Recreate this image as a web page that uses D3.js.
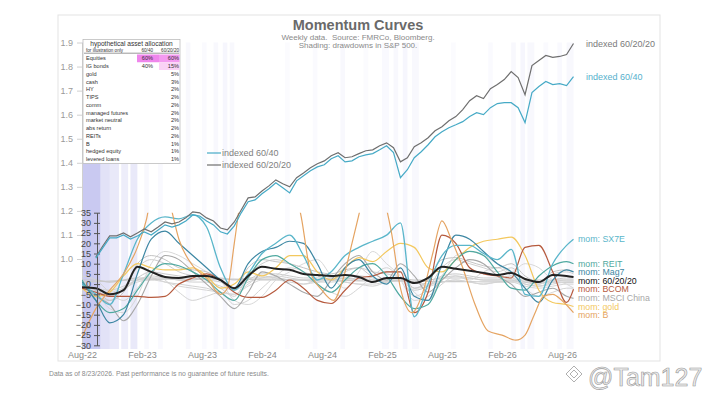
<!DOCTYPE html>
<html>
<head>
<meta charset="utf-8">
<title>Momentum Curves</title>
<script src="https://cdn.jsdelivr.net/npm/d3@7"></script>
<style>
  body { margin: 0; background: #fff; }
  svg { font-family: "Liberation Sans", Arial, sans-serif; }
  .pre { white-space: pre; }
</style>
</head>
<body>
<svg id="chart" width="715" height="402"></svg>
<script>
// ---- data (weeks counted from the first observation, Aug-22) ----
const xTickWeeks = [0, 26, 52, 78, 104, 130, 156, 182, 208];
const xTickLabels = ["Aug-22", "Feb-23", "Aug-23", "Feb-24", "Aug-24", "Feb-25", "Aug-25", "Feb-26", "Aug-26"];
const idxTicks = [1.0, 1.1, 1.2, 1.3, 1.4, 1.5, 1.6, 1.7, 1.8, 1.9];
const momTicks = [35, 30, 25, 20, 15, 10, 5, 0, -5, -10, -15, -20, -25, -30];

// indexed portfolios
const idxWeeks = [6,9,12,15,18,21,24,27,30,33,36,39,42,45,48,51,54,57,60,63,66,69,72,75,78,81,84,87,90,93,96,99,102,105,108,111,114,117,120,123,126,129,132,135,138,141,144,147,150,153,156,159,162,165,168,171,174,177,180,183,186,189,192,195,198,201,204,207,210,213];
const idx602020 = [1.008,1.054,1.096,1.096,1.108,1.092,1.108,1.125,1.113,1.133,
  1.154,1.146,1.154,1.171,1.196,1.192,1.171,1.158,1.129,1.121,
  1.154,1.204,1.254,1.258,1.283,1.304,1.329,1.313,1.300,1.338,
  1.358,1.379,1.396,1.408,1.429,1.442,1.421,1.425,1.438,1.450,
  1.454,1.471,1.483,1.463,1.404,1.421,1.467,1.483,1.504,1.533,
  1.550,1.575,1.592,1.621,1.658,1.679,1.667,1.708,1.725,1.746,
  1.779,1.754,1.683,1.804,1.825,1.846,1.838,1.842,1.850,1.896];
const idx6040 = [1.004,1.046,1.088,1.088,1.100,1.083,1.096,1.113,1.100,1.121,
  1.142,1.133,1.142,1.158,1.183,1.179,1.158,1.142,1.113,1.104,
  1.138,1.192,1.238,1.246,1.271,1.292,1.317,1.296,1.275,1.325,
  1.346,1.367,1.383,1.392,1.417,1.429,1.404,1.408,1.425,1.433,
  1.438,1.454,1.471,1.442,1.338,1.371,1.421,1.446,1.475,1.508,
  1.529,1.546,1.558,1.571,1.592,1.608,1.600,1.629,1.646,1.650,
  1.650,1.629,1.567,1.692,1.717,1.738,1.725,1.729,1.721,1.758];

// momentum series (sampled every 6 weeks)
const momWeeks = [0,6,12,18,24,30,36,42,48,54,60,66,72,78,84,90,96,102,108,114,120,126,132,138,144,150,156,162,168,174,180,186,192,198,204,210,213];
const mom602020 = [-1.5,-2,-5,-3,8.5,6,3.5,3,4,4,2,-2,4,8.5,7.5,7,5,4.5,4,4.5,3.5,1,3,3,0.5,3,8.5,7.5,6.5,5.5,4.5,5.5,2.5,1,4.5,4,3.5];
const momSX7E = [0,-5,-10,5,22,30,33,32,34,28,8,-3,5,15,20,24,14,2,6,14,18,21,24,30,-16,0,14,19,19,15,12,17,-5,-6,10,19,22];
const momREIT = [2,-8,-14,-12,-3,6,10,9,6,2,-4,-8,3,12,14,10,6,0,-4,2,8,10,4,-6,-12,-10,3,12,16,14,6,-2,-3,4,9,11,10];
const momMag7 = [1,-8,-19,-15,5,22,26,20,14,8,2,-2,10,16,18,21,20,10,-2,8,12,4,0,8,-6,-8,10,24,22,16,10,6,-2,-9,2,7,6];
const momBCOM = [-2,-4,-6,-6,-6,-6.5,-6,0,3,5,2,-4,-6.5,-6.5,-3,2,-2,-8,-9.5,-3,3,4,6,6,-14,-4,24,20,8,5,4,3,18,19,6,-9,-2.5];
const momChina = [0,-6,-10,-18,-10,4,14,12,6,0,-6,-12,-4,6,4,0,-4,-6,2,10,14,6,2,10,4,-4,2,8,12,10,4,0,-6,-4,-2,-6,-7];
const momGold = [-2,-6,-4,4,10,8,7,7,8,4,-2,0,6,4,8,14,14,6,2,8,13,11,16,20,18,8,6,12,18,21,22,23,14,-3,-9,-10,-11];
const momIGbonds = [-2,-4,-5,-3,2,3,1,0,-1,-2,-4,-5,0,4,3,2,0,2,3,1,0,-1,1,2,1,-1,1,2,1,0,1,2,0,-1,0,1,1];
const momCash = [1,1.2,1.5,1.8,2,2.2,2.4,2.5,2.5,2.5,2.4,2.4,2.3,2.2,2.2,2.1,2,2,1.9,1.8,1.6,1.5,1.4,1.4,1.3,1.3,1.2,1.2,1.2,1.1,1.1,1.1,1,1,1,1,1];
const momHY = [0,-6,-8,-2,8,12,10,6,4,2,-2,-6,4,10,12,10,6,4,2,6,8,6,5,3,-6,-2,8,12,10,8,6,8,2,0,5,6,5];
const momTIPS = [-1,-3,-4,-2,1,2,1,-1,-2,-3,-4,-5,-1,2,2,1,0,1,2,1,0,0,1,2,1,0,1,2,1,0,1,1,-1,-2,-1,0,0];
const momComm = [2,-4,-12,-14,-6,10,16,14,10,6,2,-8,-10,-6,2,6,10,12,4,-2,6,16,10,4,-4,-8,4,14,16,14,10,6,10,8,2,0,-2];
const momMgdFut = [4,2,-4,-8,-2,6,2,-4,-8,-6,-4,-10,-8,-2,4,8,6,0,-4,-6,-2,4,8,2,-8,-6,0,4,2,6,8,4,-2,-6,-4,-2,-2];
const momMktNeutral = [2,2,1,2,3,3,3,2,2,3,3,2,3,3,3,2,2,2,3,3,2,2,2,3,2,2,3,3,3,2,2,2,2,2,2,2,2];
const momAbsReturn = [0,-2,-3,-1,2,4,3,2,1,1,-1,-3,1,3,4,3,2,1,1,2,3,2,1,2,-2,-1,3,4,3,2,2,3,0,-1,1,2,2];
const momHedgedEq = [-1,-3,-8,-4,10,14,12,8,7,6,2,-3,8,12,11,10,8,6,5,7,8,4,6,6,-2,2,12,13,11,9,8,10,4,1,6,7,6];
const momLevLoans = [0,-3,-6,-3,3,6,5,4,3,2,1,-2,2,5,5,4,3,3,2,3,4,3,2,2,-3,-1,4,5,4,3,3,4,1,0,2,3,3];

// bitcoin has its own sampling (it runs far off the top of the panel)
const momBWeeks = [0,6,12,18,24,28,31,34,38,42,48,54,60,63,66,68,72,80,90,95,99,104,109,113,117,120,124,130,134,138,143,148,152,156,160,165,170,176,182,188,192,196,200,204,208,213];
const momB = [-26,-12,-3,5,18,32,50,55,40,22,9,3,-5,-2,20,36,55,70,55,33,6,-3,-8,2,20,34,55,45,26,-2,-14,-3,15,31,22,8,-9,-23,-25,-27.5,-25,-15,-6,-5,-8,-14];

// S&P 500 drawdown shading
const ddStart = [0, 8, 12, 17, 21, 27, 33, 45, 52, 57, 61, 64, 88, 100, 112, 122, 130, 135, 139, 143, 160, 176, 186, 190, 193, 200, 206, 210];
const ddEnd   = [8, 12, 16, 20, 24, 29, 35, 47, 54, 59, 63, 66, 90, 102, 114, 124, 133, 137, 141, 146, 162, 178, 188, 192, 196, 202, 208, 213];
const ddDepth = [0.75, 0.4, 0.3, 0.25, 0.3, 0.1, 0.08, 0.1, 0.07, 0.1, 0.12, 0.1, 0.06, 0.07, 0.1, 0.06, 0.08, 0.1, 0.12, 0.1, 0.06, 0.07, 0.1, 0.12, 0.1, 0.07, 0.08, 0.1];

// allocation table
const assetNames = ["Equities", "IG bonds", "gold", "cash", "HY", "TIPS", "comm", "managed futures", "market neutral", "abs return", "REITs", "B", "hedged equity", "levered loans"];
const alloc6040 = ["60%", "40%", "", "", "", "", "", "", "", "", "", "", "", ""];
const alloc602020 = ["60%", "15%", "5%", "3%", "2%", "2%", "2%", "2%", "2%", "2%", "2%", "1%", "1%", "1%"];

// ---- chart ----
const svg = d3.select('#chart');

const x = d3.scaleLinear().domain([0, 213]).range([82, 573.5]);
const yIdx = d3.scaleLinear().domain([0.626, 1.9]).range([349, 42.5]);
const yMom = d3.scaleLinear().domain([-30, 35]).range([345.3, 212.7]);
const plotTop = 42.5, plotBottom = 349;

// outer frame
svg.append('rect')
  .attr('x', 58).attr('y', 15).attr('width', 602).attr('height', 346)
  .attr('fill', 'none').attr('stroke', '#e3e3e3');

// drawdown shading
svg.append('g').selectAll('rect')
  .data(ddStart.map((s, i) => ({ s: s, e: ddEnd[i], d: ddDepth[i] })))
  .join('rect')
  .attr('x', d => x(d.s))
  .attr('width', d => x(d.e) - x(d.s))
  .attr('y', plotTop)
  .attr('height', plotBottom - plotTop)
  .attr('fill', '#b7b7ec')
  .attr('opacity', d => d.d);

// title
svg.append('text').attr('x', 358).attr('y', 30).attr('text-anchor', 'middle')
  .attr('font-size', 14.5).attr('font-weight', 'bold').attr('fill', '#6a6a6a')
  .text('Momentum Curves');
svg.append('text').attr('class', 'pre').attr('x', 358).attr('y', 40).attr('text-anchor', 'middle')
  .attr('font-size', 8).attr('fill', '#8a8a8a')
  .text('Weekly data.  Source: FMRCo, Bloomberg.');
svg.append('text').attr('x', 358).attr('y', 47.5).attr('text-anchor', 'middle')
  .attr('font-size', 8).attr('fill', '#8a8a8a')
  .text('Shading: drawdowns in S&P 500.');

// left axis (indexed)
const idxAxis = svg.append('g')
  .attr('transform', 'translate(82,0)')
  .call(d3.axisLeft(yIdx).tickValues(idxTicks).tickFormat(d3.format('.1f')).tickSize(5).tickSizeOuter(0).tickPadding(4));
idxAxis.select('.domain').attr('stroke', '#d0d0d0');
idxAxis.selectAll('.tick line').attr('stroke', '#d0d0d0');
idxAxis.selectAll('.tick text').attr('fill', '#9a9a9a').attr('font-size', 9).attr('font-family', 'Liberation Sans, Arial, sans-serif');

// x axis labels
const xAxis = svg.append('g')
  .attr('transform', `translate(0,${plotBottom})`)
  .call(d3.axisBottom(x).tickValues(xTickWeeks).tickFormat((d, i) => xTickLabels[i]).tickSize(0).tickPadding(3));
xAxis.select('.domain').remove();
xAxis.selectAll('.tick text').attr('fill', '#8a8a8a').attr('font-size', 9).attr('font-family', 'Liberation Sans, Arial, sans-serif');

// allocation table
const tbl = svg.append('g');
const rowBand = d3.scaleBand().domain(assetNames).range([54.5, 163]);
tbl.append('rect').attr('x', 83).attr('y', 39.5).attr('width', 97).attr('height', 124)
  .attr('fill', '#fff').attr('stroke', '#bdbdbd').attr('stroke-width', 0.8);
tbl.append('rect').attr('x', 137).attr('y', rowBand('Equities')).attr('width', 22).attr('height', rowBand.bandwidth())
  .attr('fill', '#ef86ec');
tbl.append('rect').attr('x', 159).attr('y', rowBand('Equities')).attr('width', 20.5).attr('height', rowBand.bandwidth())
  .attr('fill', '#f39af0');
tbl.append('rect').attr('x', 159).attr('y', rowBand('IG bonds')).attr('width', 20.5).attr('height', rowBand.bandwidth())
  .attr('fill', '#fad2f6');
tbl.append('text').attr('x', 131.5).attr('y', 45.8).attr('text-anchor', 'middle')
  .attr('font-size', 6.6).attr('fill', '#333').text('hypothetical asset allocation');
tbl.append('text').attr('x', 86).attr('y', 51.5).attr('font-size', 4.6).attr('fill', '#333').text('for illustration only');
tbl.append('text').attr('x', 153).attr('y', 51.5).attr('text-anchor', 'end').attr('font-size', 4.6).attr('fill', '#333').text('60/40');
tbl.append('text').attr('x', 179).attr('y', 51.5).attr('text-anchor', 'end').attr('font-size', 4.6).attr('fill', '#333').text('60/20/20');
tbl.append('line').attr('x1', 84).attr('x2', 179).attr('y1', 53.2).attr('y2', 53.2).attr('stroke', '#555').attr('stroke-width', 0.6);
const rows = tbl.selectAll('g.row').data(assetNames).join('g').attr('class', 'row')
  .attr('transform', d => `translate(0,${rowBand(d) + rowBand.bandwidth() / 2 + 2})`);
rows.append('text').attr('x', 86).attr('font-size', 5.6).attr('fill', '#333').text(d => d);
rows.append('text').attr('x', 153).attr('text-anchor', 'end').attr('font-size', 5.6).attr('fill', '#333').text((d, i) => alloc6040[i]);
rows.append('text').attr('x', 179).attr('text-anchor', 'end').attr('font-size', 5.6).attr('fill', '#333').text((d, i) => alloc602020[i]);

// momentum lines
svg.append('clipPath').attr('id', 'momclip').append('rect')
  .attr('x', x(0)).attr('y', yMom(35)).attr('width', x(213) - x(0) + 2).attr('height', plotBottom - yMom(35));

const momSeries = [
  { name: 'IG bonds', values: momIGbonds, color: '#d2d2d2', w: 1 },
  { name: 'cash', values: momCash, color: '#cccccc', w: 1.2 },
  { name: 'TIPS', values: momTIPS, color: '#d6d6d6', w: 1 },
  { name: 'market neutral', values: momMktNeutral, color: '#c8c8c8', w: 1.2 },
  { name: 'abs return', values: momAbsReturn, color: '#d0d0d0', w: 1 },
  { name: 'levered loans', values: momLevLoans, color: '#cacaca', w: 1 },
  { name: 'HY', values: momHY, color: '#cfcfcf', w: 1 },
  { name: 'comm', values: momComm, color: '#d8d8d8', w: 1 },
  { name: 'managed futures', values: momMgdFut, color: '#d4d4d4', w: 1 },
  { name: 'hedged equity', values: momHedgedEq, color: '#c4c4c4', w: 1 },
  { name: 'mom: MSCI China', values: momChina, color: '#a8a8a8', w: 1.1, label: true },
  { name: 'mom: gold', values: momGold, color: '#f3c85e', w: 1.2, label: true },
  { name: 'mom: BCOM', values: momBCOM, color: '#b65a3e', w: 1.2, label: true },
  { name: 'mom: REIT', values: momREIT, color: '#4fa9a0', w: 1.2, label: true },
  { name: 'mom: Mag7', values: momMag7, color: '#3d87a3', w: 1.2, label: true },
  { name: 'mom: SX7E', values: momSX7E, color: '#5ab6ca', w: 1.3, label: true },
  { name: 'mom: B', values: momB, weeks: momBWeeks, color: '#e5a462', w: 1.2, label: true },
  { name: 'mom: 60/20/20', values: mom602020, color: '#222222', w: 2, label: true }
];

const momLine = d3.line()
  .x(d => x(d[0]))
  .y(d => yMom(d[1]))
  .curve(d3.curveMonotoneX);

const momG = svg.append('g').attr('clip-path', 'url(#momclip)');
momSeries.forEach(s => {
  const wk = s.weeks || momWeeks;
  s.points = s.values.map((v, i) => [wk[i], v]);
  momG.append('path')
    .attr('d', momLine(s.points))
    .attr('fill', 'none')
    .attr('stroke', s.color)
    .attr('stroke-width', s.w);
});

// momentum axis
const momAxis = svg.append('g')
  .attr('transform', 'translate(97,0)')
  .call(d3.axisLeft(yMom).tickValues(momTicks).tickSize(3).tickSizeOuter(0).tickPadding(3));
momAxis.select('.domain').attr('stroke', '#555');
momAxis.selectAll('.tick line').attr('x1', 3).attr('stroke', '#555');
momAxis.selectAll('.tick text').attr('fill', '#444').attr('font-size', 9).attr('font-family', 'Liberation Sans, Arial, sans-serif');

// indexed lines
const idxLine = d3.line().x(d => x(d[0])).y(d => yIdx(d[1]));
const idxSeries = [
  { name: 'indexed 60/20/20', values: idx602020, color: '#6f6f6f', text: '#7a7a7a' },
  { name: 'indexed 60/40', values: idx6040, color: '#46aac6', text: '#56b0cc' }
];
idxSeries.forEach(s => {
  svg.append('path')
    .attr('d', idxLine(s.values.map((v, i) => [idxWeeks[i], v])))
    .attr('fill', 'none').attr('stroke', s.color).attr('stroke-width', 1.2);
  svg.append('text')
    .attr('x', 586).attr('y', yIdx(s.values[s.values.length - 1])).attr('dy', '0.35em')
    .attr('font-size', 9).attr('fill', s.text).text(s.name);
});

// legend for indexed lines
const legend = svg.append('g');
[idxSeries[1], idxSeries[0]].forEach((s, i) => {
  const ly = 153 + i * 12;
  legend.append('line').attr('x1', 207).attr('x2', 221).attr('y1', ly).attr('y2', ly)
    .attr('stroke', s.color).attr('stroke-width', 1.2);
  legend.append('text').attr('x', 222).attr('y', ly).attr('dy', '0.35em')
    .attr('font-size', 9).attr('fill', '#808080').text(s.name);
});

// right-hand momentum labels, nudged apart
const labels = momSeries.filter(s => s.label).map(s => ({
  name: s.name, color: s.color === '#222222' ? '#111' : s.color,
  y: yMom(s.values[s.values.length - 1])
})).sort((a, b) => a.y - b.y);
for (let i = 1; i < labels.length; i++) {
  if (labels[i].y - labels[i - 1].y < 8.5) labels[i].y = labels[i - 1].y + 8.5;
}
svg.append('g').selectAll('text').data(labels).join('text')
  .attr('x', 578).attr('y', d => d.y).attr('dy', '0.35em')
  .attr('font-size', 8.8).attr('fill', d => d.color).text(d => d.name);

// footnote
svg.append('text').attr('x', 49).attr('y', 376).attr('font-size', 6.8).attr('fill', '#8a8a8a')
  .text('Data as of 8/23/2026. Past performance is no guarantee of future results.');

// watermark
const wm = svg.append('g');
wm.append('path')
  .attr('d', 'M574,366 l8,8 l-8,8 l-8,-8 z M574,370 l4,4 l-4,4 l-4,-4 z')
  .attr('fill', 'none').attr('stroke', '#b0b0b0').attr('stroke-width', 1);
wm.append('text').attr('x', 588).attr('y', 386).attr('font-size', 25)
  .attr('fill', '#ececec').attr('stroke', '#9a9a9a').attr('stroke-width', 0.6)
  .text('@Tam127');
</script>
</body>
</html>
